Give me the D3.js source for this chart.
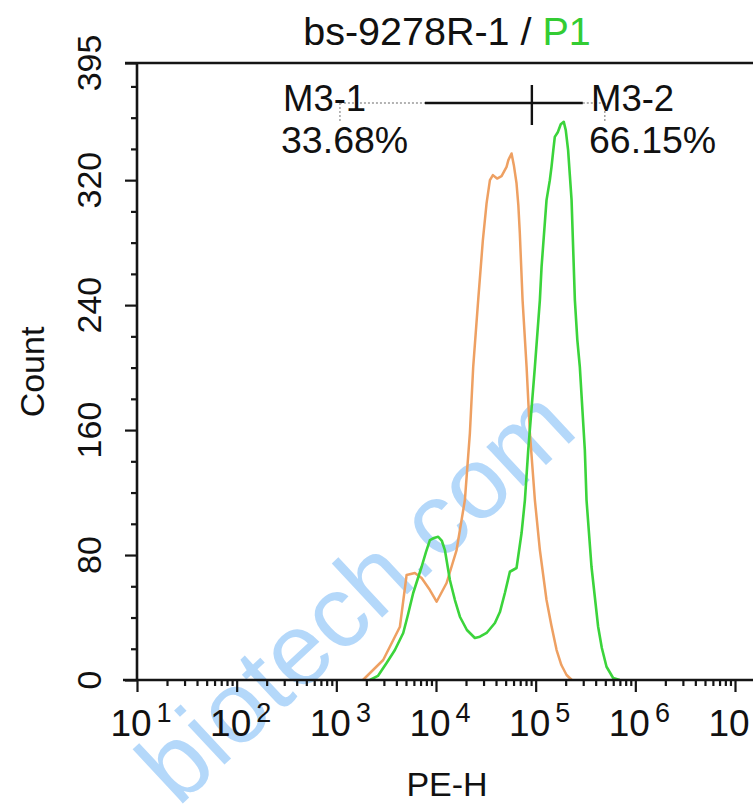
<!DOCTYPE html>
<html><head><meta charset="utf-8">
<script src="https://cdn.jsdelivr.net/npm/d3@7"></script>
<style>body{margin:0;background:#fff}svg{display:block}text{font-family:"Liberation Sans",Arial,Helvetica,sans-serif}</style>
</head><body><svg id="c" width="753" height="810"></svg>
<script>
// ---- data ----
const orangeX = [1849,2951,4345,5070,6138,7173,8690,10140,12770,16090,19490,21880,23620,26500,29530,32180,34750,37220,41000,45480,51050,53200,57270,60400,64260,67000,69340,73900,81070,87510,98200,110200,128500,143500,162200,181100,204200,230600];
const orangeY = [0,12.8,34.1,67.2,68.5,65.3,57.6,50.1,62.1,83.2,115.2,158.1,200.5,243.2,281.6,305.3,320,323.2,321,322.6,328.5,332.8,337.1,329.6,318,304,286.1,243.2,200.5,158.1,115.2,83.2,51.2,35.2,19.2,9.6,3.2,0];
const greenX = [2173,2612,3193,3869,4690,5224,5905,7173,7927,8690,9530,10520,11460,12280,13780,15480,17370,20420,24560,27560,32180,39000,43770,49110,55100,64260,72200,77990,84200,98200,110200,114600,128500,138700,144200,150300,155600,166700,178600,191400,200400,211600,220200,229200,247400,261900,277400,311400,323800,363200,423400,461300,514000,598800,698100];
const greenY = [0,2.6,10.9,19.2,30.1,41.6,55.7,72.5,81.9,89.6,90.9,91.7,89,83.2,64,51.2,40.5,32,26.9,27.7,30.1,36.5,43.5,55.7,69.3,71.7,94.1,115.2,147.2,200.5,243.2,264.5,307.2,320,328.5,339.2,347.7,350.7,355.8,357.3,352,339.2,323.2,307.2,243.2,217.6,200.5,147.2,115.2,72.5,34.1,20.5,8.5,1.3,0];
const yTickValues = [0,80,160,240,320,395];
const yMinorValues = [20,40,60,100,120,140,180,200,220,260,280,300,340,360,380];
const xTickExponents = [1,2,3,4,5,6,7];
const markerNames = ["M3-1","M3-2"];
const markerPercents = ["33.68%","66.15%"];
const gateEdges = [1087,7740,91600,297000,494000]; // dotted start, solid start, divider, solid end, dotted end
const titleMain = "bs-9278R-1 / ";
const titleGate = "P1";
const xLabel = "PE-H", yLabel = "Count";
const watermark = "biotech.com";

// ---- drawing ----
const svg = d3.select("#c");
svg.append("rect").attr("width",753).attr("height",810).attr("fill","#fff");
const x = d3.scaleLog().domain([10,1e7]).range([137,735]);
const y = d3.scaleLinear().domain([0,395]).range([680,63]);
const axisCol = "#151515";

// watermark
svg.append("text").text(watermark)
  .attr("transform","translate(178,808) rotate(-43)")
  .attr("font-size",102).attr("fill","#a8d2fa").attr("opacity",0.85);

// curves
const line = d3.line().x(d=>x(d[0])).y(d=>y(d[1]));
svg.append("path").datum(orangeX.map((v,i)=>[v,orangeY[i]]))
  .attr("d",line).attr("fill","none").attr("stroke","#ee a062".replace(" ","")).attr("stroke-width",2.5).attr("stroke-linejoin","round");
svg.append("path").datum(greenX.map((v,i)=>[v,greenY[i]]))
  .attr("d",line).attr("fill","none").attr("stroke","#3bd43b").attr("stroke-width",2.6).attr("stroke-linejoin","round");

// axes
const xMinor = [];
xTickExponents.forEach(e=>{ for(let k=2;k<=9;k++){ const v=k*Math.pow(10,e); if(x(v)<753) xMinor.push(v);} });
const gx = svg.append("g").attr("transform","translate(0,680)");
gx.call(d3.axisBottom(x).tickValues(xMinor).tickSize(6).tickFormat(""));
gx.call(g=>g.selectAll(".domain").remove());
const gxMaj = svg.append("g").attr("transform","translate(0,680)");
gxMaj.call(d3.axisBottom(x).tickValues(xTickExponents.map(e=>Math.pow(10,e))).tickSize(12).tickFormat(""));
gxMaj.call(g=>g.selectAll(".domain").remove());
svg.append("line").attr("x1",123).attr("x2",753).attr("y1",680).attr("y2",680).attr("stroke",axisCol).attr("stroke-width",2.6);
xTickExponents.forEach(e=>{
  const t = svg.append("text").attr("x",x(Math.pow(10,e))+4).attr("y",736).attr("text-anchor","middle").attr("font-size",37).attr("fill","#111");
  t.append("tspan").text("10");
  t.append("tspan").text(String(e)).attr("font-size",27).attr("dx",5).attr("dy",-14);
});

const gy = svg.append("g").attr("transform","translate(137,0)");
gy.call(d3.axisLeft(y).tickValues(yMinorValues).tickSize(6).tickFormat(""));
gy.call(g=>g.selectAll(".domain").remove());
const gyMaj = svg.append("g").attr("transform","translate(137,0)");
gyMaj.call(d3.axisLeft(y).tickValues(yTickValues).tickSize(12).tickFormat(""));
gyMaj.call(g=>g.selectAll(".domain").remove());
svg.selectAll(".tick line").attr("stroke",axisCol).attr("stroke-width",2.2);
svg.append("line").attr("x1",137).attr("x2",137).attr("y1",62).attr("y2",681).attr("stroke",axisCol).attr("stroke-width",2.6);
svg.append("line").attr("x1",125).attr("x2",753).attr("y1",63).attr("y2",63).attr("stroke",axisCol).attr("stroke-width",2.6);
yTickValues.forEach(v=>{
  svg.append("text").text(String(v)).attr("transform",`translate(101,${y(v)}) rotate(-90)`)
    .attr("text-anchor","middle").attr("font-size",34).attr("fill","#111");
});

// axis titles
svg.append("text").text(yLabel).attr("transform","translate(44,372) rotate(-90)").attr("text-anchor","middle").attr("font-size",34).attr("fill","#111");
svg.append("text").text(xLabel).attr("x",447).attr("y",796).attr("text-anchor","middle").attr("font-size",34).attr("fill","#111");

// title
const tt = svg.append("text").attr("x",447).attr("y",45).attr("text-anchor","middle").attr("font-size",39.5).attr("fill","#111");
tt.append("tspan").text(titleMain);
tt.append("tspan").text(titleGate).attr("fill","#33cc33");

// markers
const my = 103;
const dotted = {stroke:"#9a9a9a","stroke-width":1.4,"stroke-dasharray":"2,2"};
function ln(x1,y1,x2,y2,st){const l=svg.append("line").attr("x1",x1).attr("y1",y1).attr("x2",x2).attr("y2",y2);Object.entries(st).forEach(([k,v])=>l.attr(k,v));}
ln(x(gateEdges[0]),my,x(gateEdges[1]),my,dotted);
ln(x(gateEdges[0]),my,x(gateEdges[0]),123,dotted);
ln(x(gateEdges[3]),my,x(gateEdges[4]),my,dotted);
ln(x(gateEdges[4]),my,x(gateEdges[4]),123,dotted);
ln(x(gateEdges[1]),my,x(gateEdges[3]),my,{stroke:"#111","stroke-width":2.4});
ln(x(gateEdges[2]),85,x(gateEdges[2]),125,{stroke:"#111","stroke-width":2.4});
const mx = [283,591];
markerNames.forEach((n,i)=>{
  svg.append("text").text(n).attr("x",mx[i]).attr("y",111).attr("font-size",36.5).attr("fill","#111");
  svg.append("text").text(markerPercents[i]).attr("x",mx[i]-2).attr("y",153).attr("font-size",37.5).attr("fill","#111");
});
</script></body></html>
